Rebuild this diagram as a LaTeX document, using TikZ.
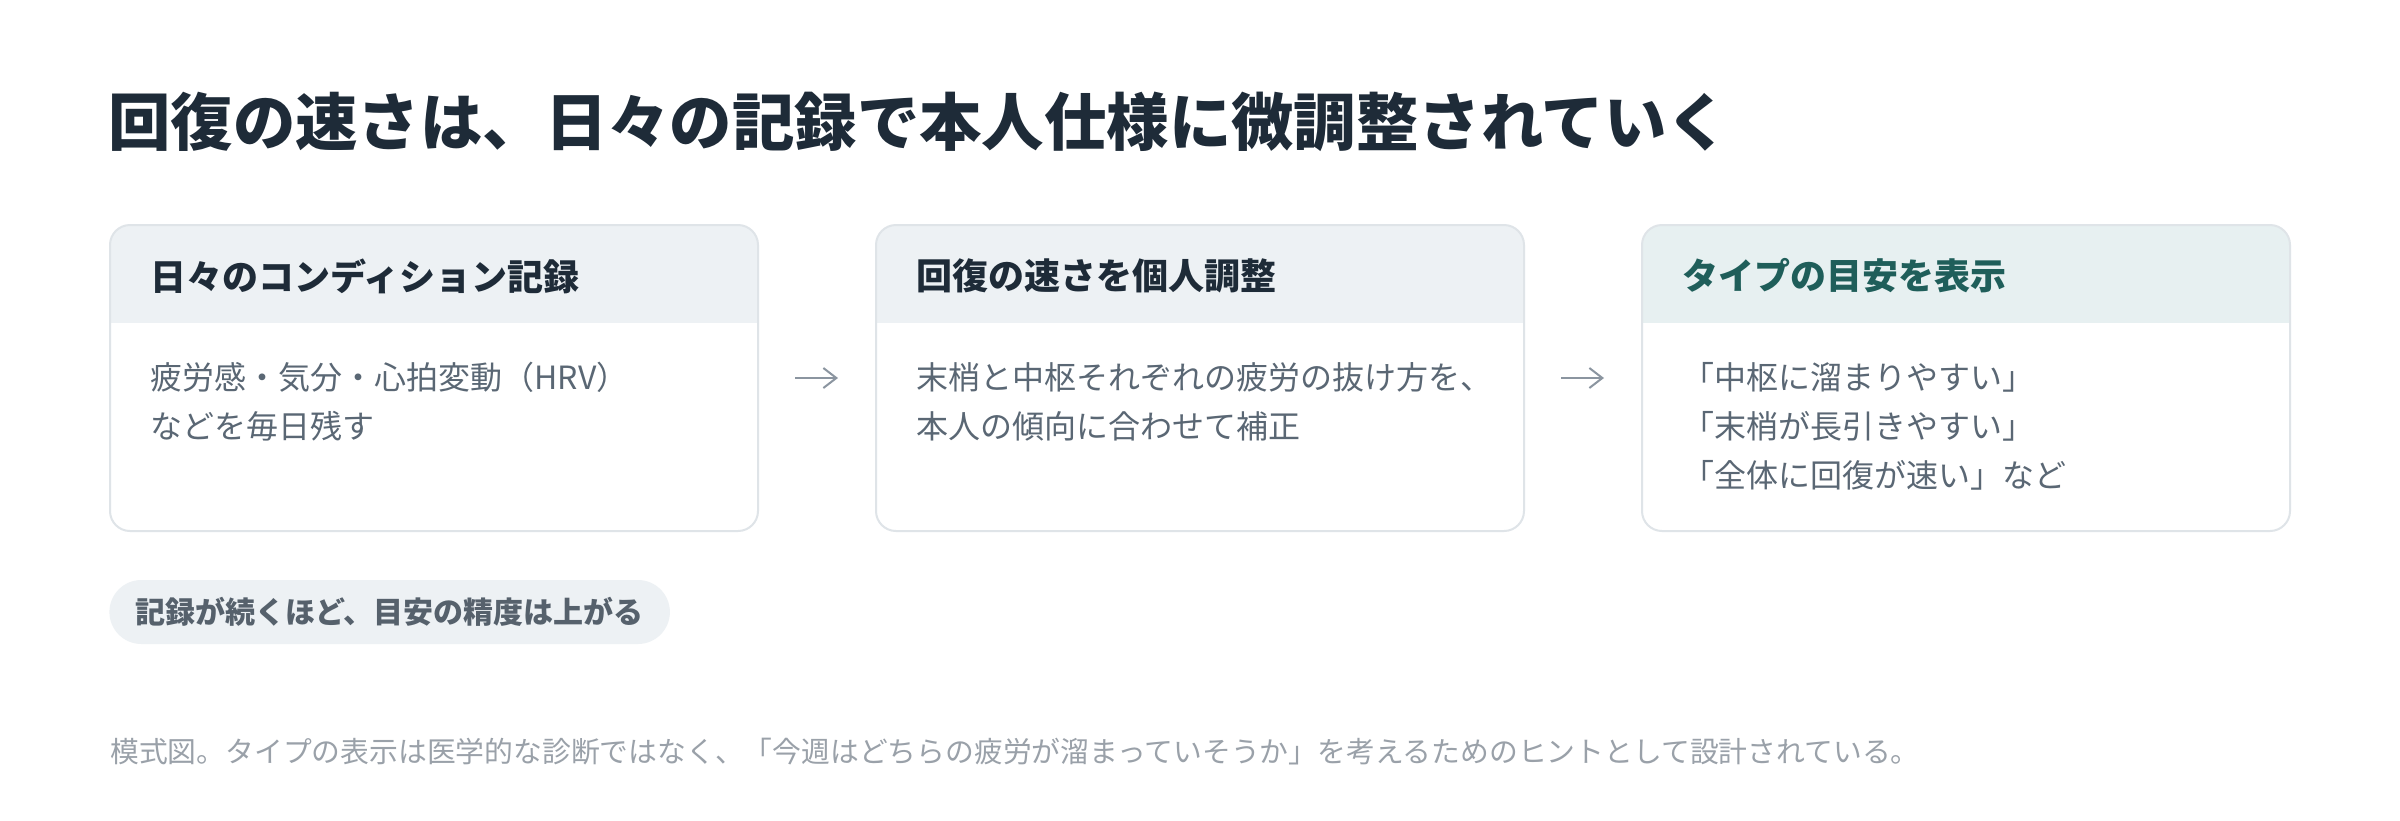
\documentclass[tikz,border=0pt]{standalone}
\usepackage{fontspec}
\setmainfont{Noto Sans CJK JP}
\usetikzlibrary{arrows.meta,positioning}
\definecolor{titlenavy}{HTML}{1E2B38}
\definecolor{hdrgray}{HTML}{EDF1F4}
\definecolor{hdrteal}{HTML}{E7F0F1}
\definecolor{tealtext}{HTML}{1F5E5A}
\definecolor{cardline}{HTML}{DFE4E8}
\definecolor{bodygray}{HTML}{5A6774}
\definecolor{arrowgray}{HTML}{8B95A0}
\definecolor{pillgray}{HTML}{EDF1F4}
\definecolor{pilltext}{HTML}{56616C}
\definecolor{footgray}{HTML}{9AA1A9}
\tikzset{
  card/.style={draw=cardline, line width=1pt, fill=white, rounded corners=10pt,
    minimum width=324pt, minimum height=153pt, inner sep=0pt,
    path picture={\fill[#1, sharp corners] (path picture bounding box.north west)
      rectangle ([yshift=-49pt]path picture bounding box.north east);}},
  card/.default=hdrgray,
  cardhead/.style={anchor=west, inner sep=0pt, font=\bfseries\fontsize{18pt}{22pt}\selectfont, text=titlenavy},
  cardbody/.style={anchor=north west, inner sep=0pt, align=left,
    font=\fontsize{16pt}{24.5pt}\selectfont, text=bodygray},
  flow/.style={draw=arrowgray, line width=1pt, -{Straight Barb[length=6.5pt,width=10pt]},
    shorten <=18pt, shorten >=18.5pt}
}
\begin{document}
\begin{tikzpicture}[x=0.5pt,y=-0.5pt]
  \fill[white] (0,0) rectangle (2400,820);
  \useasboundingbox (0,0) rectangle (2400,820);
  \node[anchor=west, inner sep=0pt, font=\bfseries\fontsize{31.2pt}{36pt}\selectfont, text=titlenavy]
    at (108,122) (title) {回復の速さは、日々の記録で本人仕様に微調整されていく};
  \node[card] at (434,378) (rec) {};
  \node[card] at (1200,378) (adj) {};
  \node[card=hdrteal] at (1966,378) (typ) {};
  \node[cardhead] at (150,276) (rechead) {日々のコンディション記録};
  \node[cardhead] at (916,276) (adjhead) {回復の速さを個人調整};
  \node[cardhead, text=tealtext] at (1682,276) (typhead) {タイプの目安を表示};
  \node[cardbody] at (150,362) (recbody) {疲労感・気分・心拍変動（HRV）\\などを毎日残す};
  \node[cardbody] at (916,362) (adjbody) {末梢と中枢それぞれの疲労の抜け方を、\\本人の傾向に合わせて補正};
  \node[cardbody] at (1682,362) (typbody) {「中枢に溜まりやすい」\\「末梢が長引きやすい」\\「全体に回復が速い」など};
  \draw[flow] (rec) -- (adj);
  \draw[flow] (adj) -- (typ);
  \node[anchor=west, fill=pillgray, rounded corners=16pt, minimum height=32pt, inner xsep=13pt,
    font=\bfseries\fontsize{15pt}{18pt}\selectfont, text=pilltext] at (109,612) (pill) {記録が続くほど、目安の精度は上がる};
  \node[anchor=west, inner sep=0pt, font=\fontsize{14.4pt}{17pt}\selectfont, text=footgray]
    at (110,752) (foot) {模式図。タイプの表示は医学的な診断ではなく、「今週はどちらの疲労が溜まっていそうか」を考えるためのヒントとして設計されている。};
\end{tikzpicture}
\end{document}
